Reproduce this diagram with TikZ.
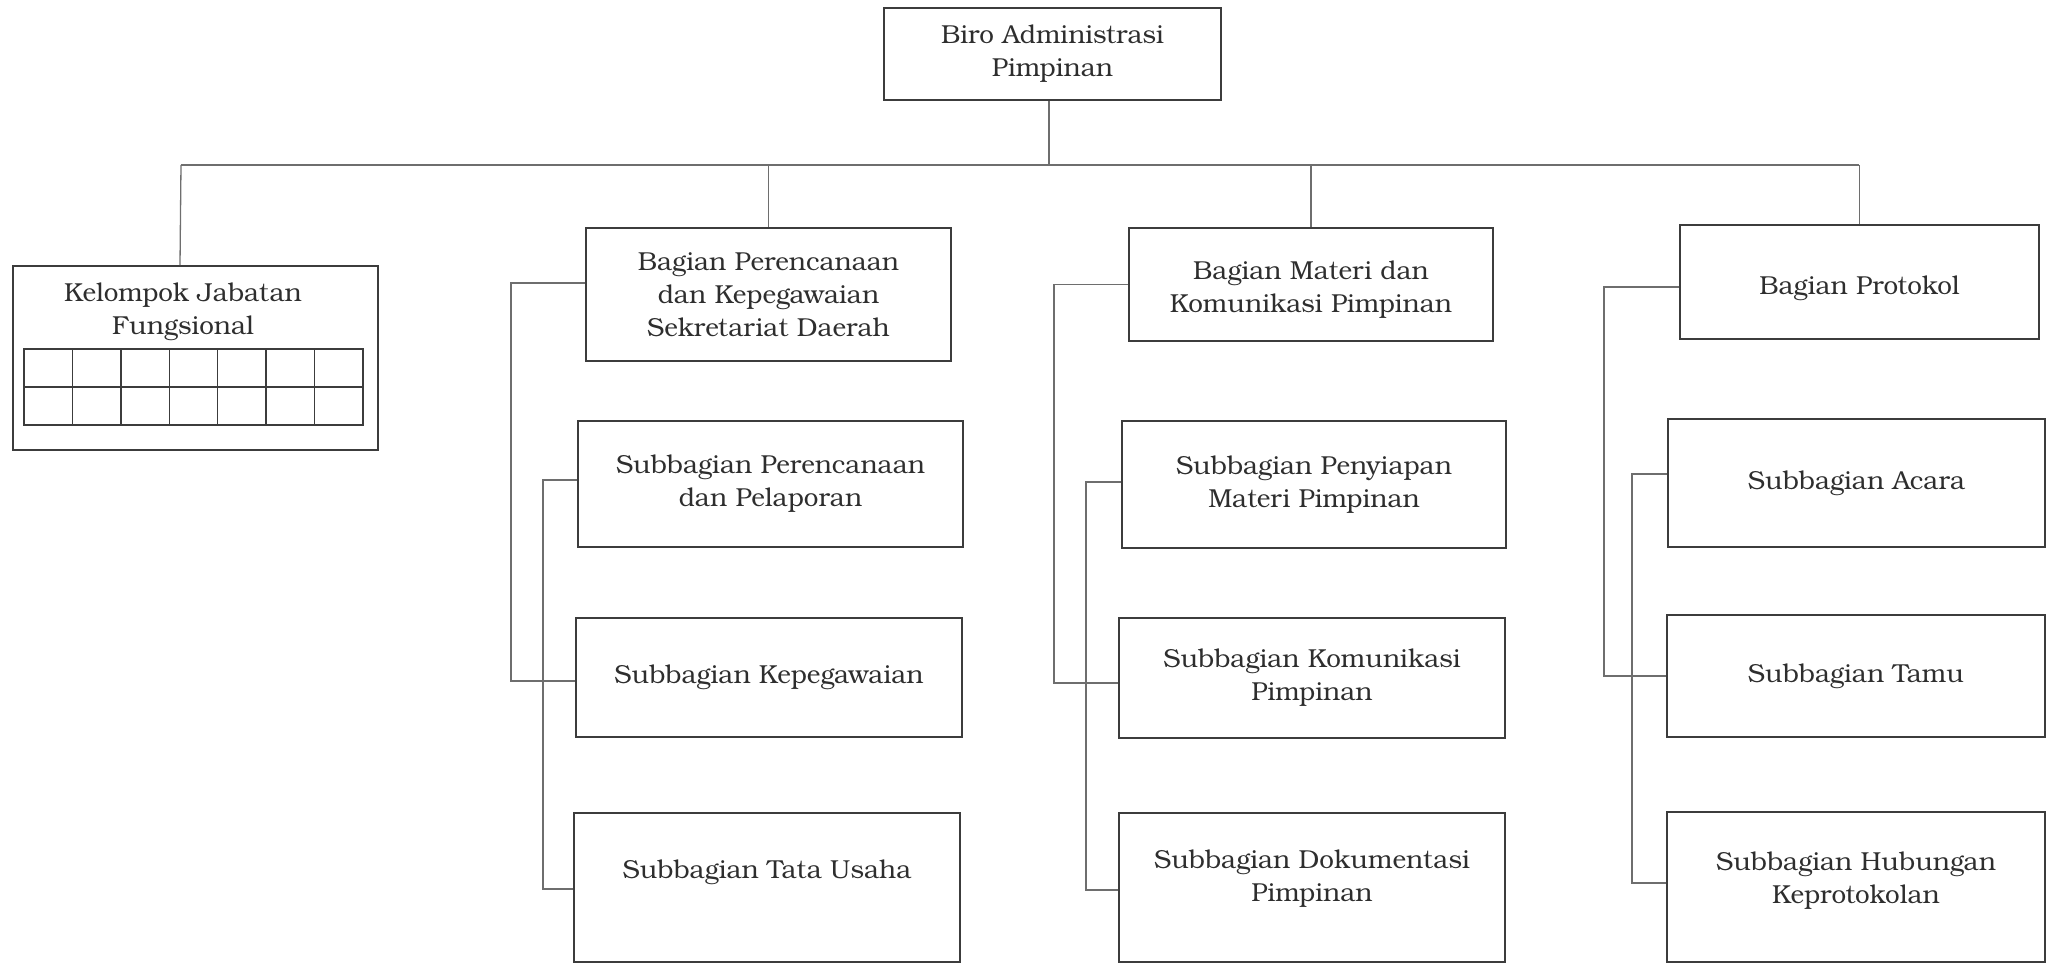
\documentclass[tikz,border=0pt]{standalone}
\usepackage{fontspec}
\setmainfont{TeX Gyre Bonum}
\begin{document}
\begin{tikzpicture}[x=0.5pt,y=-0.5pt,
  box/.style={draw=boxline, line width=0.9pt, inner sep=0pt, align=center,
    font=\fontsize{13}{16.5}\selectfont, text=ink},
  txt/.style={align=center, inner sep=0pt, font=\fontsize{13}{16.5}\selectfont, text=ink},
  conn/.style={draw=connline, line width=0.65pt},
  gridline/.style={draw=boxline, line width=0.7pt}]
\definecolor{boxline}{HTML}{3C3C3C}
\definecolor{connline}{HTML}{6E6E6E}
\definecolor{ink}{HTML}{2E2E2E}
\useasboundingbox (0,0) rectangle (2047,964);

% head of the bureau
\node[box, minimum width=168.5pt, minimum height=46pt] (top) at (1052.5,54) {Biro Administrasi\\Pimpinan};

% functional positions group with its table
\node[box, minimum width=182.5pt, minimum height=92pt] (kel) at (195.5,358) {};
\node[txt] (keltxt) at (183,312) {Kelompok Jabatan\\Fungsional};
\draw[gridline] (24,349) rectangle (363,425);
\draw[gridline] (24,387) -- (363,387);
\foreach \i in {1,...,6} {
  \draw[gridline] ({24+\i*48.43},349) -- ({24+\i*48.43},425);
}

% planning and staffing division
\node[box, minimum width=182.5pt, minimum height=66.5pt] (bp) at (768.5,294.5) {Bagian Perencanaan\\dan Kepegawaian\\Sekretariat Daerah};
\node[box, minimum width=192.5pt, minimum height=63pt] (sp1) at (770.5,484) {Subbagian Perencanaan\\dan Pelaporan};
\node[box, minimum width=193pt, minimum height=59.5pt] (sp2) at (769,677.5) {Subbagian Kepegawaian};
\node[box, minimum width=193pt, minimum height=74.5pt,
  label={[txt,yshift=7.75pt]center:Subbagian Tata Usaha}] (sp3) at (767,887.5) {};

% material and communication division
\node[box, minimum width=182pt, minimum height=56.5pt,
  label={[txt,yshift=-2.5pt]center:{Bagian Materi dan\\Komunikasi Pimpinan}}] (bm) at (1311,284.5) {};
\node[box, minimum width=192pt, minimum height=63.5pt] (sm1) at (1314,484.5) {Subbagian Penyiapan\\Materi Pimpinan};
\node[box, minimum width=193pt, minimum height=60pt] (sm2) at (1312,678) {Subbagian Komunikasi\\Pimpinan};
\node[box, minimum width=193pt, minimum height=74.5pt,
  label={[txt,yshift=4.25pt]center:{Subbagian Dokumentasi\\Pimpinan}}] (sm3) at (1312,887.5) {};

% protocol division
\node[box, minimum width=179.5pt, minimum height=57pt,
  label={[txt,yshift=-3pt]center:Bagian Protokol}] (bpr) at (1859.5,282) {};
\node[box, minimum width=188.5pt, minimum height=64pt] (sr1) at (1856.5,483) {Subbagian Acara};
\node[box, minimum width=189pt, minimum height=61pt] (sr2) at (1856,676) {Subbagian Tamu};
\node[box, minimum width=189pt, minimum height=75pt,
  label={[txt,yshift=3pt]center:{Subbagian Hubungan\\Keprotokolan}}] (sr3) at (1856,887) {};

% main distribution bar
\coordinate (hl) at (181,165);
\coordinate (hr) at (1859,165);
\draw[conn] (hl) -- (hr);
\draw[conn] ([xshift=-1.75pt]top.south) -- ([xshift=-1.75pt]top.south |- hl);
\draw[conn] (hl) -- ([xshift=-7.75pt]kel.north);
\draw[conn] (bp.north) -- (bp.north |- hl);
\draw[conn] (bm.north) -- (bm.north |- hl);
\draw[conn] (bpr.north) -- (bpr.north |- hl);

% brackets linking each division to its subdivisions
\draw[conn] ([yshift=5.75pt]bp.west) -- ++(-74,0) |- ([yshift=-1.75pt]sp2.west);
\draw[conn] ([yshift=2pt]sp1.west) -- ++(-34,0) |- ([yshift=-0.75pt]sp3.west);

\draw[conn] (bm.west) -- ++(-74,0) |- ([yshift=-2.5pt]sm2.west);
\draw[conn] ([yshift=1.25pt]sm1.west) -- ++(-35,0) |- ([yshift=-1.25pt]sm3.west);

\draw[conn] ([yshift=-2.5pt]bpr.west) -- ++(-75,0) |- (sr2.west);
\draw[conn] ([yshift=4.5pt]sr1.west) -- ++(-35,0) |- ([yshift=2pt]sr3.west);
\end{tikzpicture}
\end{document}
